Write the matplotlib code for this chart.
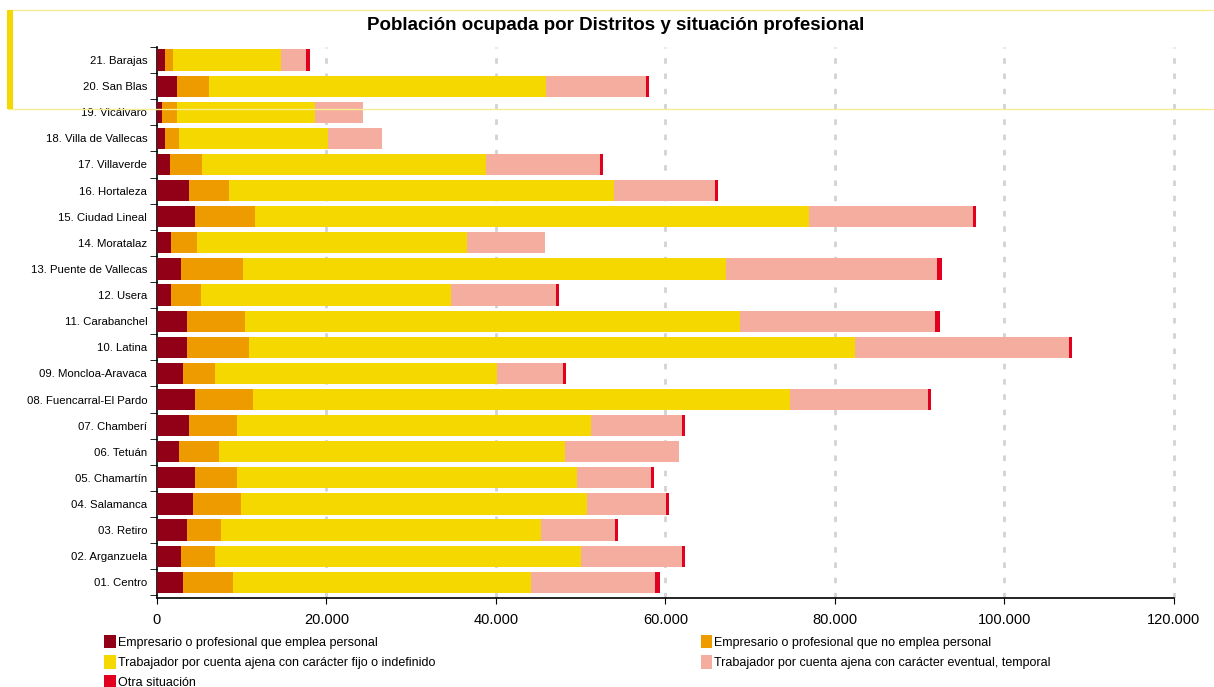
import numpy as np
import matplotlib
matplotlib.use("Agg")
import matplotlib.pyplot as plt
from matplotlib.ticker import FuncFormatter, FixedLocator
from matplotlib.patches import Rectangle

plt.rcParams['font.family'] = ['Liberation Sans', 'DejaVu Sans']

# distritos, de abajo (01) a arriba (21)
distritos = ["01. Centro", "02. Arganzuela", "03. Retiro", "04. Salamanca",
             "05. Chamartín", "06. Tetuán", "07. Chamberí", "08. Fuencarral-El Pardo",
             "09. Moncloa-Aravaca", "10. Latina", "11. Carabanchel", "12. Usera",
             "13. Puente de Vallecas", "14. Moratalaz", "15. Ciudad Lineal",
             "16. Hortaleza", "17. Villaverde", "18. Villa de Vallecas",
             "19. Vicálvaro", "20. San Blas", "21. Barajas"]

emp_con = [3030, 2790, 3500, 4210, 4440, 2560, 3740, 4440, 3030, 3500, 3500,
           1610, 2800, 1610, 4450, 3730, 1590, 890, 650, 2330, 890]
emp_sin = [5900, 4010, 4010, 5660, 4960, 4710, 5660, 6850, 3780, 7330, 6850,
           3550, 7320, 3080, 7090, 4720, 3780, 1680, 1680, 3780, 980]
fijo = [35220, 43220, 37810, 40850, 40190, 40870, 41790, 63350, 33310, 71520, 58470,
        29530, 57070, 31880, 65340, 45530, 33510, 17640, 16290, 39820, 12740]
eventual = [14560, 11980, 8690, 9400, 8650, 13500, 10810, 16390, 7790, 25290, 22990,
            12410, 24850, 9220, 19410, 11810, 13430, 6300, 5740, 11810, 3030]
otra = [590, 350, 350, 350, 350, 0, 350, 320, 360, 370, 590,
        370, 580, 0, 360, 360, 360, 0, 0, 360, 370]

series = [emp_con, emp_sin, fijo, eventual, otra]
etiquetas = ["Empresario o profesional que emplea personal",
             "Empresario o profesional que no emplea personal",
             "Trabajador por cuenta ajena con carácter fijo o indefinido",
             "Trabajador por cuenta ajena con carácter eventual, temporal",
             "Otra situación"]
colores = ["#920018", "#EE9B00", "#F5D800", "#F5ADA0", "#E2001F"]

fig = plt.figure(figsize=(12.14, 6.87), dpi=100)
ax = fig.add_axes([0.1293, 0.1296, 0.8377, 0.802])

y = np.arange(len(distritos))
izq = np.zeros(len(distritos))
handles = []
for vals, lab, col in zip(series, etiquetas, colores):
    vals = np.array(vals)
    b = ax.barh(y, vals, left=izq, height=0.81, color=col, label=lab, zorder=3)
    handles.append(b)
    izq = izq + vals

ax.set_xlim(0, 120000)
ax.set_ylim(-0.6, 20.5)
ax.set_xticks(np.arange(0, 120001, 20000))
ax.xaxis.set_major_formatter(FuncFormatter(lambda v, p: f"{int(v):,}".replace(",", ".")))
ax.tick_params(axis='x', labelsize=10.5, length=4, pad=7, direction='out')

ax.set_yticks(y)
ax.set_yticklabels(distritos, fontsize=8.2)
ax.yaxis.set_minor_locator(FixedLocator(np.arange(-0.5, 21, 1)))
ax.tick_params(axis='y', which='major', length=0, pad=7)
ax.tick_params(axis='y', which='minor', length=5, direction='out')

for s in ['top', 'right']:
    ax.spines[s].set_visible(False)
ax.spines['left'].set_linewidth(1.2)
ax.spines['bottom'].set_linewidth(1.2)

for xv in range(20000, 120001, 20000):
    ax.axvline(xv, color="#D3D3D3", lw=2.0, linestyle=(0, (2, 3.5)), zorder=1, clip_on=False)

fig.text(0.507, 0.963, "Población ocupada por Distritos y situación profesional",
         ha='center', va='center', fontsize=13.5, fontweight='bold')

# marco amarillo de la cabecera
fig.patches.append(Rectangle((8 / 1214, 1 - 109 / 687), 1.0, 99 / 687, transform=fig.transFigure,
                             fill=False, edgecolor="#F7EC90", lw=1.0, zorder=5))
fig.patches.append(Rectangle((7 / 1214, 1 - 109 / 687), 6 / 1214, 99 / 687, transform=fig.transFigure,
                             facecolor="#F5D800", edgecolor='none', zorder=5))

orden = [0, 2, 4, 1, 3]
fig.legend([handles[i] for i in orden], [etiquetas[i] for i in orden],
           loc='upper left', bbox_to_anchor=(0.086, 0.076), ncol=2, frameon=False,
           fontsize=9, handlelength=0.9, handleheight=1.3, handletextpad=0.15,
           labelspacing=0.5, columnspacing=21.3, borderaxespad=0, borderpad=0)

fig.savefig("out.png", dpi=100)
